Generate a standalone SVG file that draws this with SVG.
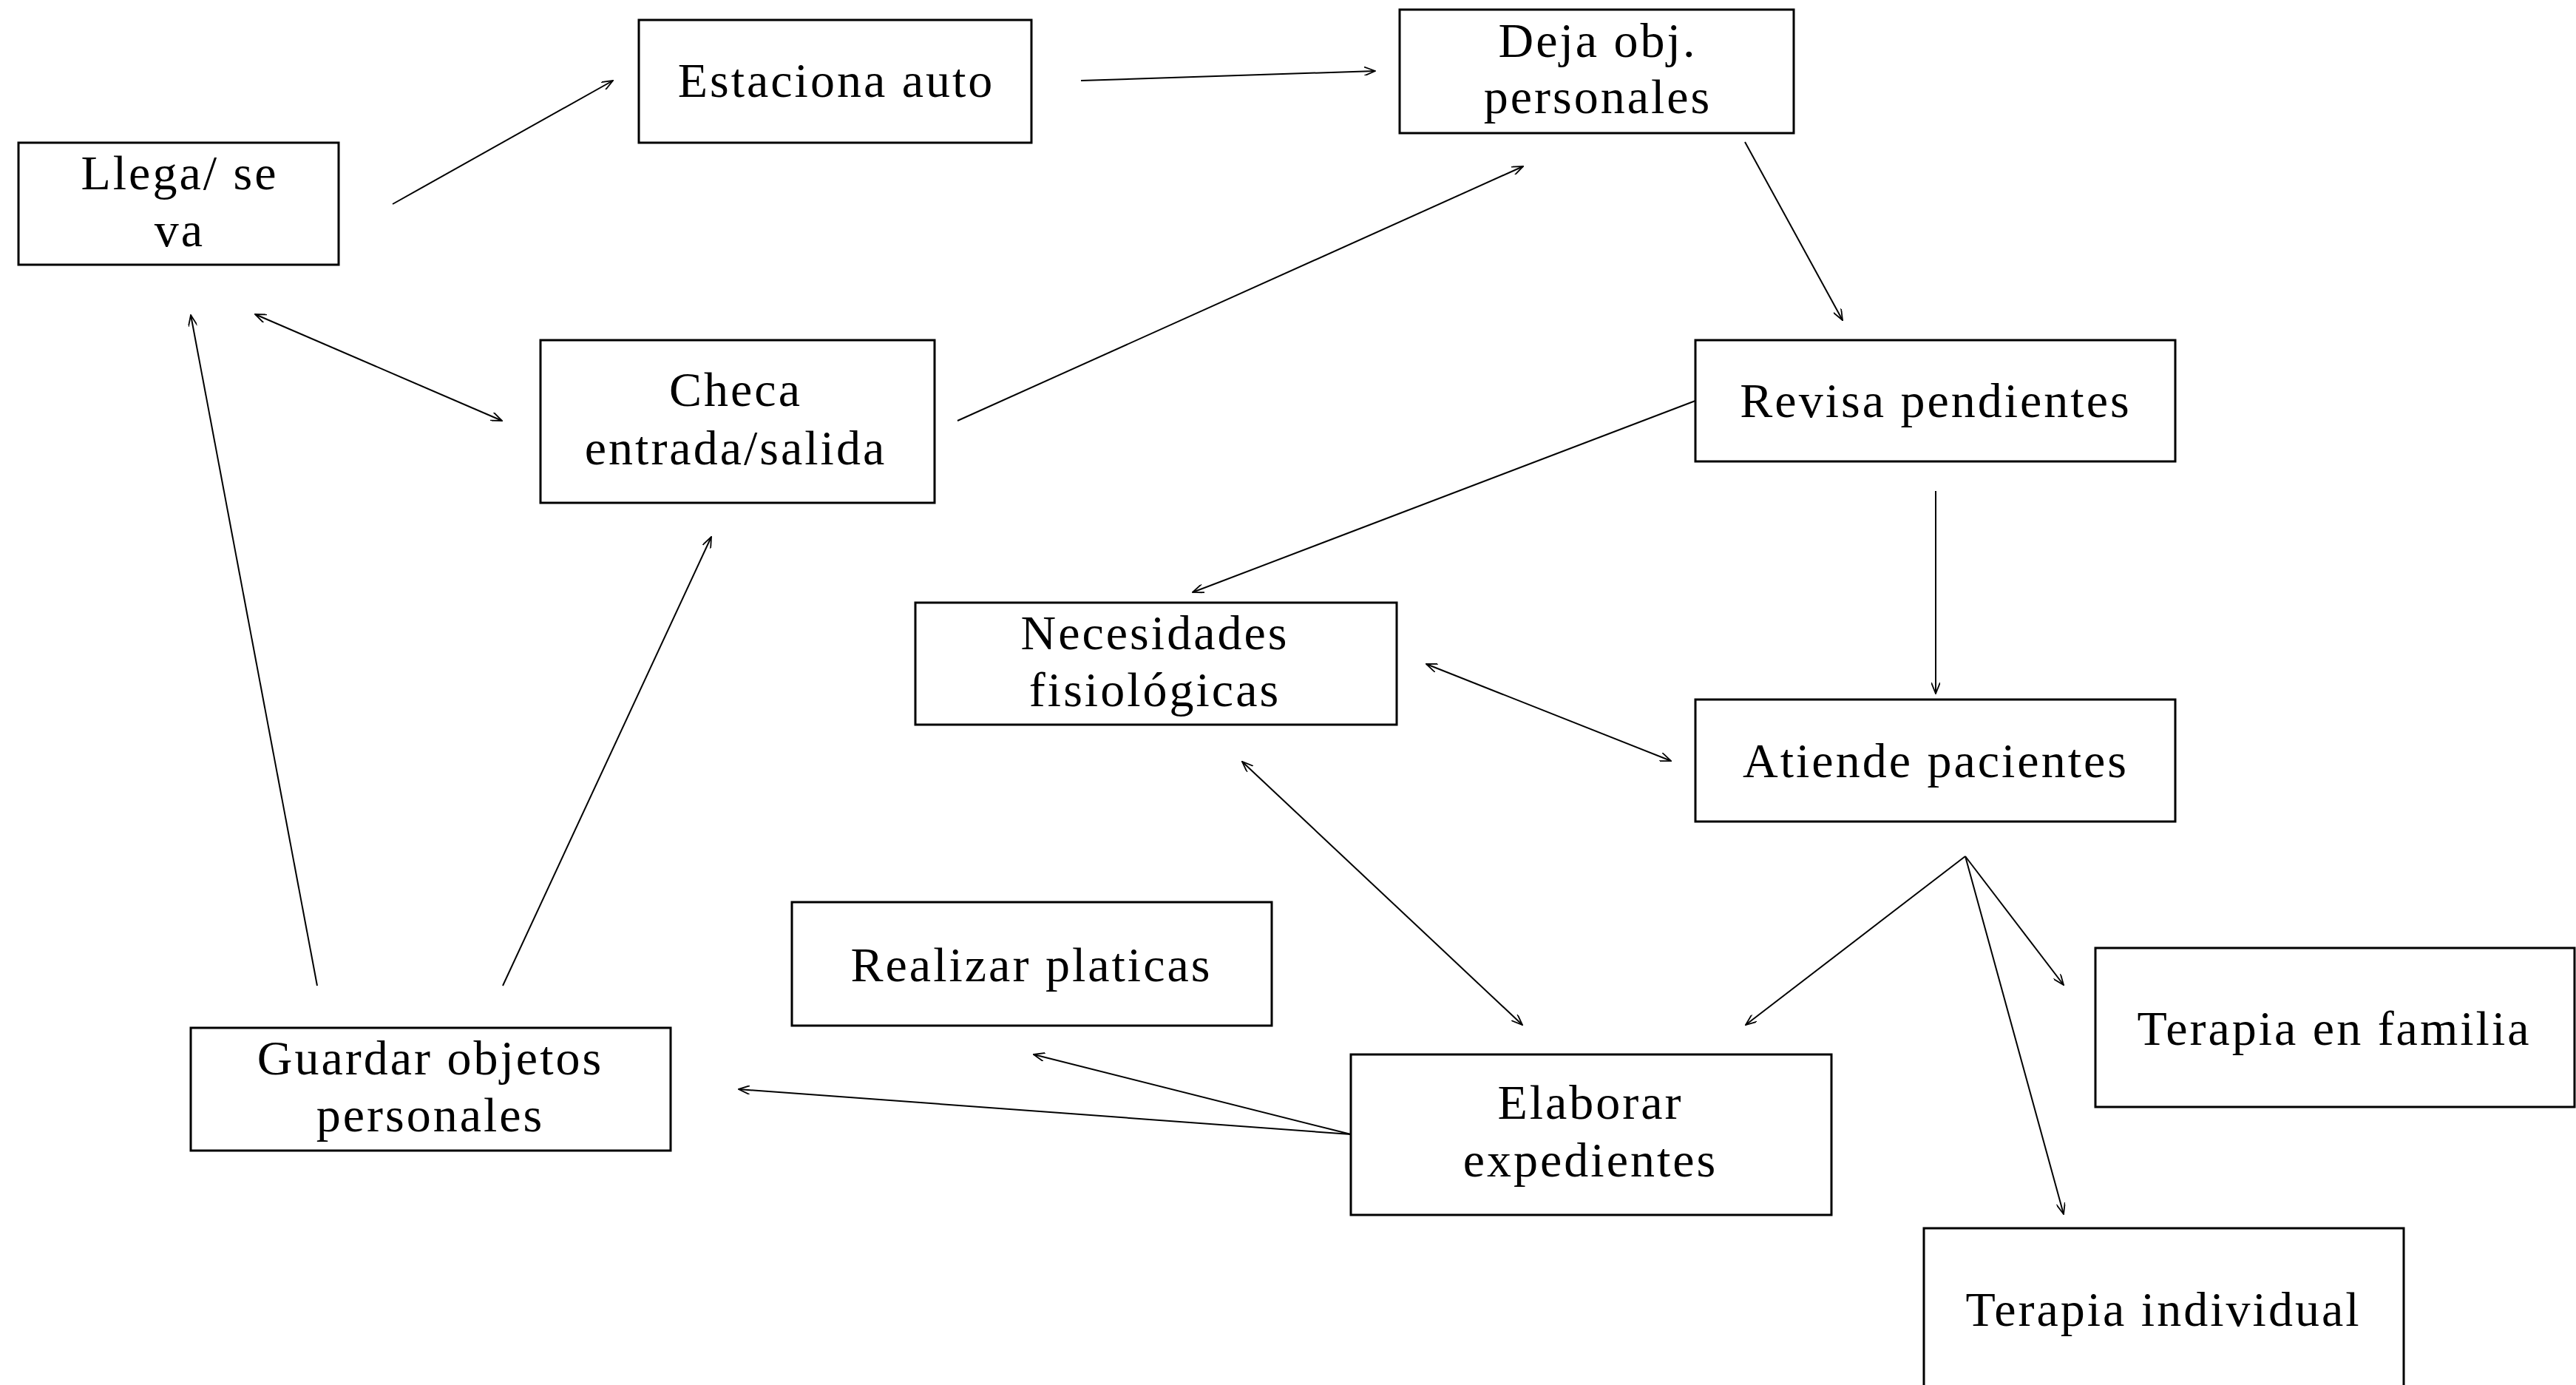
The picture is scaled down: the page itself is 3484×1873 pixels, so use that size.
<svg xmlns="http://www.w3.org/2000/svg" width="3484" height="1873" viewBox="0 0 3484 1873">
<style>
.box{fill:#fff;stroke:#000;stroke-width:3}
.t{font-family:"Liberation Serif","Times New Roman",serif;font-size:66px;letter-spacing:3px;text-anchor:middle;fill:#000}
.c{fill:none;stroke:#000;stroke-width:2}
.ar{marker-end:url(#ah)}
.bi{marker-start:url(#ah);marker-end:url(#ah)}
</style>
<defs>
<marker id="ah" viewBox="0 0 16 12" refX="15" refY="6" markerWidth="16" markerHeight="12" markerUnits="userSpaceOnUse" orient="auto-start-reverse">
<path d="M0,0 L15,6 L0,12" fill="none" stroke="#000" stroke-width="1.8"/>
</marker>
</defs>
<rect width="3484" height="1873" fill="#fff"/>
<g id="connectors">
<line class="c ar" x1="531" y1="276" x2="829" y2="109"/>
<line class="c ar" x1="1462" y1="109" x2="1860" y2="96"/>
<line class="c ar" x1="2360" y1="192" x2="2492" y2="433"/>
<line class="c ar" x1="1295" y1="569" x2="2060" y2="225"/>
<line class="c bi" x1="345" y1="425" x2="679" y2="569"/>
<line class="c ar" x1="429" y1="1333" x2="258" y2="426"/>
<line class="c ar" x1="680" y1="1333" x2="962" y2="726"/>
<line class="c ar" x1="2293" y1="542" x2="1613" y2="801"/>
<line class="c ar" x1="2618" y1="664" x2="2618" y2="938"/>
<line class="c bi" x1="1929" y1="898" x2="2260" y2="1029"/>
<line class="c bi" x1="1680" y1="1030" x2="2059" y2="1386"/>
<line class="c ar" x1="2658" y1="1158" x2="2361" y2="1386"/>
<line class="c ar" x1="2658" y1="1158" x2="2791" y2="1332"/>
<line class="c ar" x1="2658" y1="1158" x2="2791" y2="1642"/>
<line class="c ar" x1="1827" y1="1534" x2="1398" y2="1426"/>
<line class="c ar" x1="1827" y1="1534" x2="999" y2="1473"/>
</g>
<g id="n-llega">
<rect class="box" x="25" y="193" width="433" height="165"/>
<text class="t" x="243" y="256">Llega/ se</text>
<text class="t" x="243" y="333">va</text>
</g>
<g id="n-estaciona">
<rect class="box" x="864" y="27" width="531" height="166"/>
<text class="t" x="1131" y="131">Estaciona auto</text>
</g>
<g id="n-deja">
<rect class="box" x="1893" y="13" width="533" height="167"/>
<text class="t" x="2161" y="77">Deja obj.</text>
<text class="t" x="2161" y="153">personales</text>
</g>
<g id="n-checa">
<rect class="box" x="731" y="460" width="533" height="220"/>
<text class="t" x="995" y="549">Checa</text>
<text class="t" x="995" y="628">entrada/salida</text>
</g>
<g id="n-revisa">
<rect class="box" x="2293" y="460" width="649" height="164"/>
<text class="t" x="2618" y="564">Revisa pendientes</text>
</g>
<g id="n-necesidades">
<rect class="box" x="1238" y="815" width="651" height="165"/>
<text class="t" x="1562" y="878">Necesidades</text>
<text class="t" x="1562" y="955">fisiológicas</text>
</g>
<g id="n-atiende">
<rect class="box" x="2293" y="946" width="649" height="165"/>
<text class="t" x="2618" y="1051">Atiende pacientes</text>
</g>
<g id="n-realizar">
<rect class="box" x="1071" y="1220" width="649" height="167"/>
<text class="t" x="1395" y="1327">Realizar platicas</text>
</g>
<g id="n-familia">
<rect class="box" x="2834" y="1282" width="648" height="215"/>
<text class="t" x="3157" y="1413">Terapia en familia</text>
</g>
<g id="n-guardar">
<rect class="box" x="258" y="1390" width="649" height="166"/>
<text class="t" x="582" y="1453">Guardar objetos</text>
<text class="t" x="582" y="1530">personales</text>
</g>
<g id="n-elaborar">
<rect class="box" x="1827" y="1426" width="650" height="217"/>
<text class="t" x="2151" y="1513">Elaborar</text>
<text class="t" x="2151" y="1591">expedientes</text>
</g>
<g id="n-individual">
<rect class="box" x="2602" y="1661" width="649" height="260"/>
<text class="t" x="2926" y="1793">Terapia individual</text>
</g>
</svg>
